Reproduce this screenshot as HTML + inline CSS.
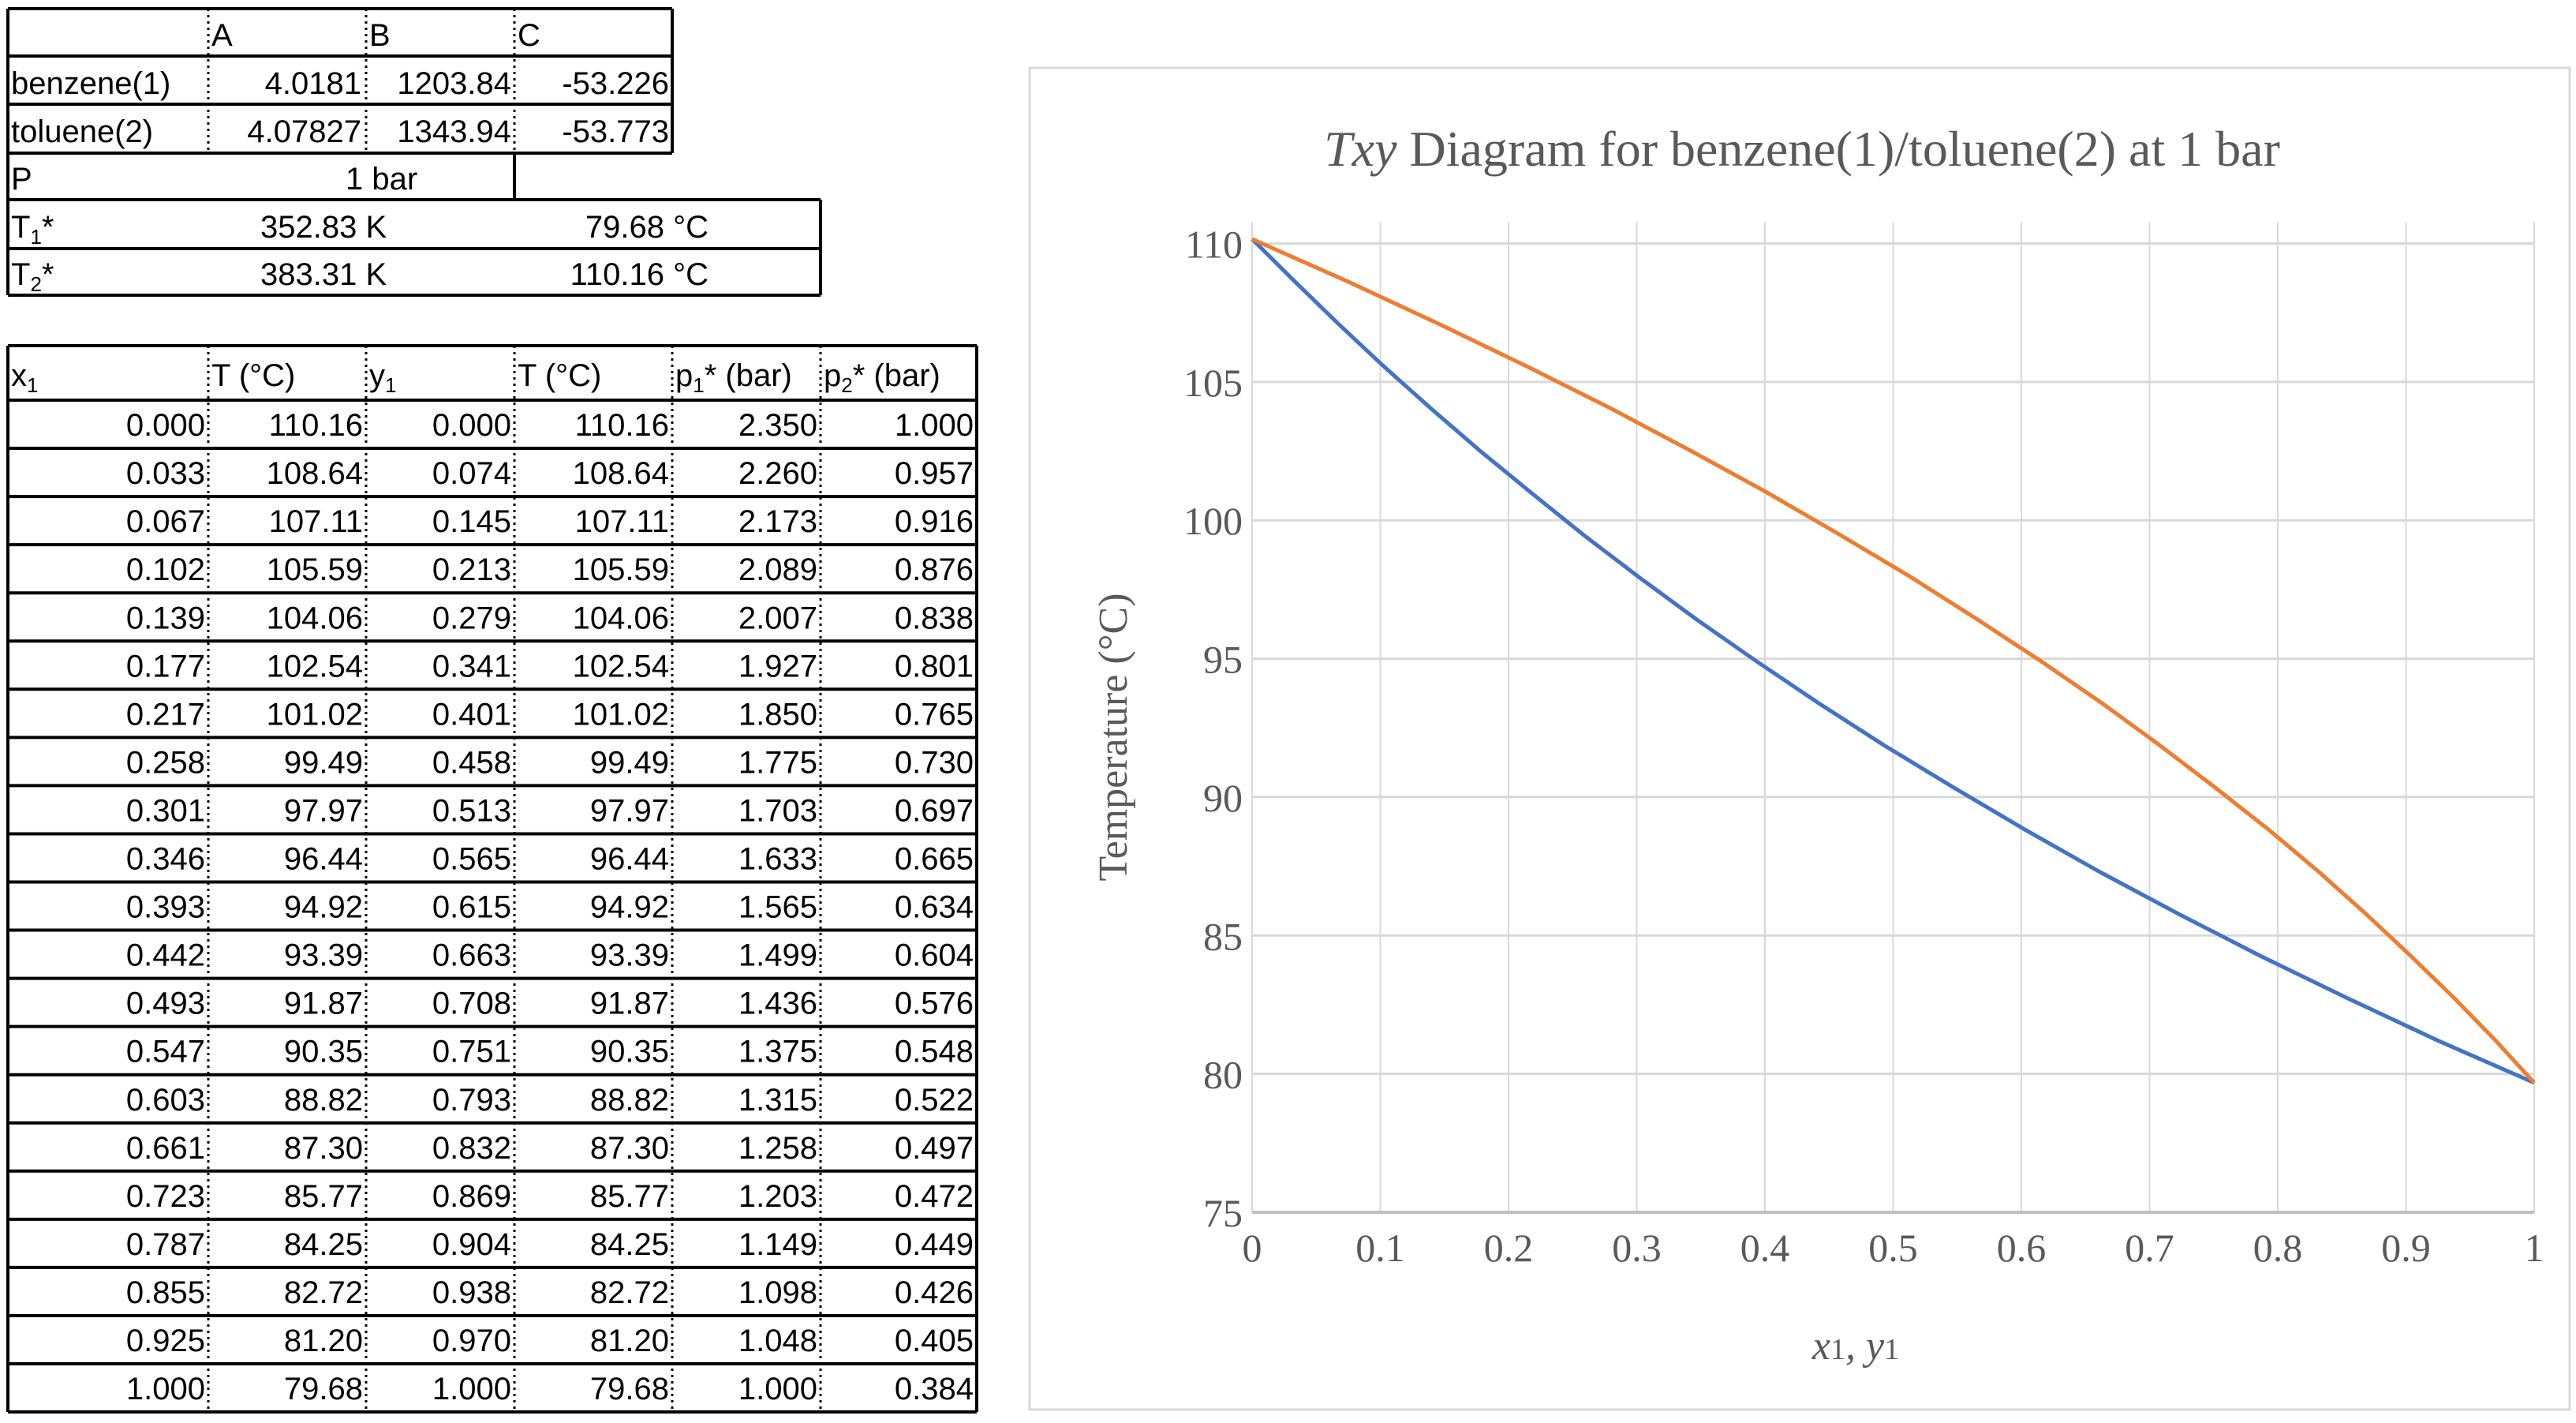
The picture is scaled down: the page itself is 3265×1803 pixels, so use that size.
<!DOCTYPE html>
<html><head><meta charset="utf-8"><style>
html,body{margin:0;padding:0;background:#fff;width:3265px;height:1803px;overflow:hidden}
svg{display:block}
.t{font-family:"Liberation Sans",sans-serif;font-size:40px;fill:#000}
.s{font-family:"Liberation Serif",serif;fill:#595959}
</style></head><body>
<svg id="root" width="3265" height="1803" viewBox="0 0 3265 1803" xmlns="http://www.w3.org/2000/svg">
<g id="tables"></g>
<g id="chart">
<rect x="1305" y="86" width="1952" height="1700" fill="#fff" stroke="#d9d9d9" stroke-width="3"/>
<text class="s" x="2284" y="210" text-anchor="middle" font-size="64"><tspan font-style="italic">Txy</tspan> Diagram for benzene(1)/toluene(2) at 1 bar</text>
<g id="grid"></g>
<g id="ticks"></g>
<g id="series"></g>
<text class="s" transform="translate(1428,934) rotate(-90)" text-anchor="middle" font-size="52">Temperature (°C)</text>
<text class="s" x="2352" y="1722" text-anchor="middle" font-size="52" font-style="italic">x<tspan font-style="normal" font-size="38">1</tspan>, y<tspan font-style="normal" font-size="38">1</tspan></text>
</g>
</svg>
<script>
const x1 = [0.000,0.033,0.067,0.102,0.139,0.177,0.217,0.258,0.301,0.346,0.393,0.442,0.493,0.547,0.603,0.661,0.723,0.787,0.855,0.925,1.000];
const Tx = [110.16,108.64,107.11,105.59,104.06,102.54,101.02,99.49,97.97,96.44,94.92,93.39,91.87,90.35,88.82,87.30,85.77,84.25,82.72,81.20,79.68];
const y1 = [0.000,0.074,0.145,0.213,0.279,0.341,0.401,0.458,0.513,0.565,0.615,0.663,0.708,0.751,0.793,0.832,0.869,0.904,0.938,0.970,1.000];
const Ty = [110.16,108.64,107.11,105.59,104.06,102.54,101.02,99.49,97.97,96.44,94.92,93.39,91.87,90.35,88.82,87.30,85.77,84.25,82.72,81.20,79.68];
const p1 = [2.350,2.260,2.173,2.089,2.007,1.927,1.850,1.775,1.703,1.633,1.565,1.499,1.436,1.375,1.315,1.258,1.203,1.149,1.098,1.048,1.000];
const p2 = [1.000,0.957,0.916,0.876,0.838,0.801,0.765,0.730,0.697,0.665,0.634,0.604,0.576,0.548,0.522,0.497,0.472,0.449,0.426,0.405,0.384];
const xTicks = [0,0.1,0.2,0.3,0.4,0.5,0.6,0.7,0.8,0.9,1];
const yTicks = [75,80,85,90,95,100,105,110];

const NS="http://www.w3.org/2000/svg";
function mk(tag,attrs,parent,text){const e=document.createElementNS(NS,tag);for(const k in attrs)e.setAttribute(k,attrs[k]);if(text!==undefined)e.textContent=text;parent.appendChild(e);return e;}
const PL=1587,PR=3212,PT=308.5,PB=1536;
const sx=v=>PL+(v-0)/(1-0)*(PR-PL);
const sy=v=>PB-(v-75)/(110-75)*(PB-PT);

const grid=document.getElementById('grid'),ticks=document.getElementById('ticks'),series=document.getElementById('series');
xTicks.forEach(v=>{
  const l=mk('line',{x1:sx(v),x2:sx(v),y1:PT-27,y2:PB,stroke:'#d9d9d9','stroke-width':2},grid);
  
  
  const t=mk('text',{x:sx(v),y:1598,'text-anchor':'middle','font-size':50,class:'s'},ticks,String(v));
  
  
});
yTicks.forEach(v=>{
  const l=mk('line',{x1:PL,x2:PR,y1:sy(v),y2:sy(v),stroke:v===75?'#bfbfbf':'#d9d9d9','stroke-width':v===75?4:3},grid);
  
  
  const t=mk('text',{x:1575,y:sy(v)+18,'text-anchor':'end','font-size':50,class:'s'},ticks,String(v));
  
  
});
const pb=mk('polyline',{points:x1.map((v,i)=>sx(v)+','+sy(Tx[i])).join(' '),fill:'none',stroke:'#4472C4','stroke-width':5,'stroke-linejoin':'round'},series);


const pd=mk('polyline',{points:y1.map((v,i)=>sx(v)+','+sy(Ty[i])).join(' '),fill:'none',stroke:'#ED7D31','stroke-width':5,'stroke-linejoin':'round'},series);



// Tables
const tb=document.getElementById('tables');
function line(x1_,y1_,x2_,y2_,dot){const l=mk('line',{x1:x1_,y1:y1_,x2:x2_,y2:y2_,stroke:'#000','stroke-width':dot?3:4},tb);if(dot)l.setAttribute('stroke-dasharray','3 5');}
function txt(x,y,s,anchor){const t=mk('text',{x:x,y:y,class:'t','text-anchor':anchor||'start'},tb);t.innerHTML=s;}
// top table
const rows=[11,71,132,194];
rows.forEach(y=>line(10,y,852,y));
line(10,11,10,374);line(852,11,852,194);
[264,464,652].forEach(x=>line(x,11,x,194,true));
txt(268,58,'A');txt(468,58,'B');txt(656,58,'C');
txt(14,119,'benzene(1)');txt(458,119,'4.0181','end');txt(648,119,'1203.84','end');txt(848,119,'-53.226','end');
txt(14,180,'toluene(2)');txt(458,180,'4.07827','end');txt(648,180,'1343.94','end');txt(848,180,'-53.773','end');
line(10,253,1040,253);line(652,194,652,253);
txt(14,240,'P');txt(438,240,'1 bar');
line(10,315,1040,315);line(10,374,1040,374);line(1040,253,1040,374);
txt(14,301,'T<tspan font-size="26" dy="8">1</tspan><tspan dy="-8">*</tspan>');txt(330,301,'352.83 K');txt(898,301,'79.68 °C','end');
txt(14,361,'T<tspan font-size="26" dy="8">2</tspan><tspan dy="-8">*</tspan>');txt(330,361,'383.31 K');txt(898,361,'110.16 °C','end');
// lower table
const cols=[10,264,464,652,852,1040,1238];
const RH=61.05,TOP=438,HB=507;
line(10,TOP,1238,TOP);line(10,HB,1238,HB);
for(let i=1;i<=21;i++)line(10,HB+i*RH,1238,HB+i*RH);
line(10,TOP,10,HB+21*RH);line(1238,TOP,1238,HB+21*RH);
cols.slice(1,6).forEach(x=>line(x,TOP,x,HB+21*RH,true));
const hdr=['x<tspan font-size="26" dy="8">1</tspan>','T (°C)','y<tspan font-size="26" dy="8">1</tspan>','T (°C)','p<tspan font-size="26" dy="8">1</tspan><tspan dy="-8">* (bar)</tspan>','p<tspan font-size="26" dy="8">2</tspan><tspan dy="-8">* (bar)</tspan>'];
hdr.forEach((h,i)=>txt(cols[i]+4,489,h));
for(let r=0;r<21;r++){
  const y=HB+(r+1)*RH-16;
  const vals=[x1[r].toFixed(3),Tx[r].toFixed(2),y1[r].toFixed(3),Ty[r].toFixed(2),p1[r].toFixed(3),p2[r].toFixed(3)];
  vals.forEach((v,i)=>txt(cols[i+1]-4,y,v,'end'));
}
</script>
</body></html>
